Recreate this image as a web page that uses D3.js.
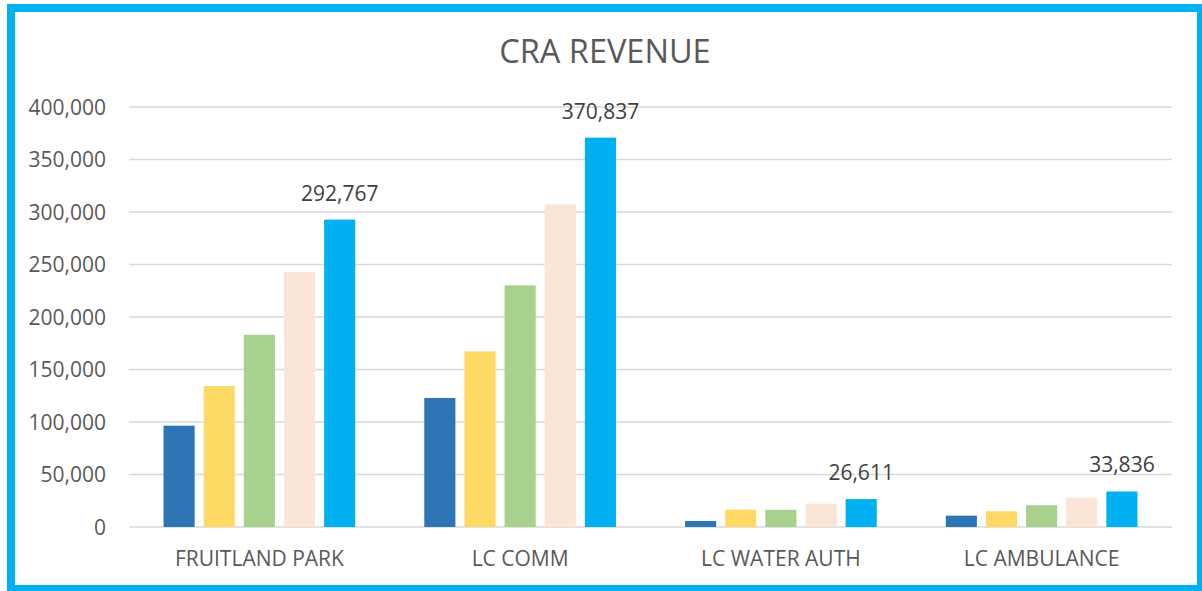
<!DOCTYPE html>
<html>
<head>
<meta charset="utf-8">
<script src="https://cdn.jsdelivr.net/npm/d3@7"></script>
<style>
  body { margin: 0; background: #fff; }
  text { font-family: "Open Sans", "Noto Sans", sans-serif; }
</style>
</head>
<body>
<div id="chart"></div>
<script>
// Chart size
var width = 1202;
var height = 591;

// Categories and the five series (one colour each)
var categories = ["FRUITLAND PARK", "LC COMM", "LC WATER AUTH", "LC AMBULANCE"];
var series1 = [96500, 122900, 5700, 10800];
var series2 = [134300, 167300, 16500, 15000];
var series3 = [183100, 230200, 16400, 20700];
var series4 = [242900, 307300, 22200, 27900];
var series5 = [292767, 370837, 26611, 33836];
var seriesColors = ["#2e75b6", "#ffd966", "#a9d18e", "#fbe5d6", "#00b0f0"];

// y ticks
var yTicks = [0, 50000, 100000, 150000, 200000, 250000, 300000, 350000, 400000];

var allSeries = [series1, series2, series3, series4, series5];

// Plot area
var m = { left: 129, right: 1172, top: 107, bottom: 527 };

var svg = d3.select("#chart").append("svg")
    .attr("width", width)
    .attr("height", height);

// Outer border
svg.append("rect")
    .attr("x", 11).attr("y", 8)
    .attr("width", 1190).attr("height", 581)
    .attr("fill", "#fff")
    .attr("stroke", "#00b0f0")
    .attr("stroke-width", 8);

// Title
svg.append("text")
    .attr("x", 605).attr("y", 63)
    .attr("text-anchor", "middle")
    .style("font-size", "32.5px")
    .style("fill", "#595959")
    .text("CRA REVENUE");

var x0 = d3.scaleBand()
    .domain(categories)
    .range([m.left, m.right])
    .padding(0);

var x1 = d3.scaleBand()
    .domain(d3.range(allSeries.length))
    .range([0, x0.bandwidth()])
    .paddingInner(0.225)
    .paddingOuter(0.86);

var y = d3.scaleLinear()
    .domain([0, 400000])
    .range([m.bottom, m.top]);

// Gridlines
svg.append("g")
  .selectAll("line")
  .data(yTicks)
  .enter().append("line")
    .attr("x1", m.left).attr("x2", m.right)
    .attr("y1", function(d) { return y(d); })
    .attr("y2", function(d) { return y(d); })
    .attr("stroke", "#d9d9d9")
    .attr("stroke-width", 1.5);

// y axis labels
var yAxis = d3.axisLeft(y)
    .tickValues(yTicks)
    .tickSize(0)
    .tickPadding(0)
    .tickFormat(d3.format(","));

var yg = svg.append("g")
    .attr("transform", "translate(106,0)")
    .call(yAxis);
yg.select(".domain").remove();
yg.selectAll("text")
    .style("font-size", "21px")
    .style("font-family", "'Open Sans', sans-serif")
    .style("fill", "#595959")
    .attr("dy", "0.35em");

// Bars
var groups = svg.append("g")
  .selectAll("g")
  .data(categories)
  .enter().append("g")
    .attr("transform", function(d) { return "translate(" + x0(d) + ",0)"; });

groups.selectAll("rect")
  .data(function(d, i) {
    return allSeries.map(function(s, k) { return { k: k, v: s[i] }; });
  })
  .enter().append("rect")
    .attr("x", function(d) { return x1(d.k); })
    .attr("width", x1.bandwidth())
    .attr("y", function(d) { return y(d.v); })
    .attr("height", function(d) { return y(0) - y(d.v); })
    .attr("fill", function(d) { return seriesColors[d.k]; });

// Data labels on the last series only
groups.append("text")
    .attr("x", function(d) { return x1(4) + x1.bandwidth() / 2; })
    .attr("y", function(d, i) { return y(series5[i]) - 19; })
    .attr("text-anchor", "middle")
    .style("font-size", "21px")
    .style("fill", "#404040")
    .text(function(d, i) { return d3.format(",")(series5[i]); });

// Category labels
var xAxis = d3.axisBottom(x0).tickSize(0).tickPadding(0);
var xg = svg.append("g")
    .attr("transform", "translate(0,551)")
    .call(xAxis);
xg.select(".domain").remove();
xg.selectAll("text")
    .style("font-size", "21px")
    .style("font-family", "'Open Sans', sans-serif")
    .style("fill", "#595959");
</script>
</body>
</html>
